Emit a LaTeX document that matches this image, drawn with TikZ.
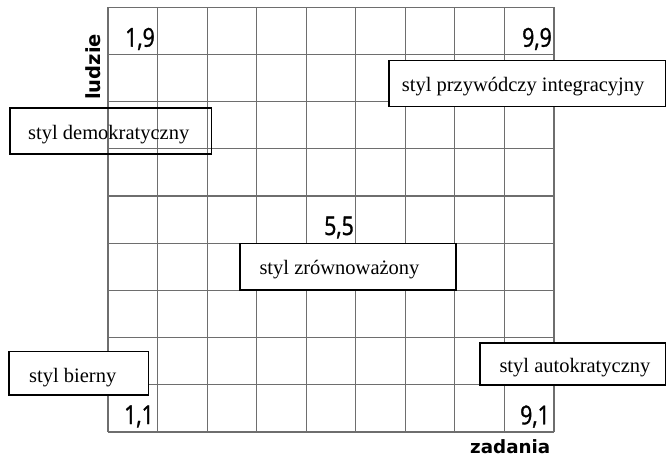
\documentclass[tikz,border=0pt]{standalone}
\usepackage{fontspec}
\setmainfont{Liberation Serif}
\newfontfamily\numfont[FakeStretch=0.82,FakeBold=1.2]{Open Sans}
\newfontfamily\axfont{DejaVu Sans}
\definecolor{gridc}{HTML}{6e6e6e}
\tikzset{
  gridline/.style={draw=gridc, line width=1.2pt},
  stylebox/.style={draw=black, line width=1.5pt, fill=white, inner sep=0pt, anchor=north west},
  openbox/.style={draw=black, line width=1.5pt, inner sep=0pt, anchor=north west},
  boxtext/.style={inner sep=0pt, anchor=base west, font=\fontsize{20.5}{24}\selectfont},
  numtext/.style={inner sep=0pt, anchor=base east, font=\numfont\fontsize{26}{30}\selectfont},
}
\begin{document}
\begin{tikzpicture}[x=1pt, y=-1pt]
\useasboundingbox (0,0) rectangle (666,457);
% grid
\foreach \i in {0,...,9} {
  \draw[gridline] ({108+\i*49.55},7.3) -- ({108+\i*49.55},432);
  \draw[gridline] (108,{7.3+\i*47.19}) -- (554,{7.3+\i*47.19});
}
% corner numbers
\node[numtext] (n19) at (155,46.7) {1,9};
\node[numtext] (n99) at (552,46.7) {9,9};
\node[numtext] (n55) at (354,235) {5,5};
\node[numtext] (n11) at (154,424) {1,1};
\node[numtext] (n91) at (550,424.3) {9,1};
% axis labels
\node[inner sep=0pt, anchor=base west, rotate=90, font=\axfont\bfseries\fontsize{19.5}{22}\selectfont] (ludzie) at (100.5,100) {ludzie};
\node[inner sep=0pt, anchor=base west, font=\axfont\bfseries\fontsize{18.3}{21}\selectfont] (zadania) at (470,453.3) {zadania};
% boxes
\node[openbox, minimum width=201.7pt, minimum height=46pt] (bdem) at (9,107.3) {};
\node[boxtext] (tdem) at (28,139.3) {styl demokratyczny};
\node[stylebox, minimum width=276.7pt, minimum height=46pt] (bint) at (388.3,60) {};
\node[boxtext] (tint) at (401.7,91.7) {styl przywódczy integracyjny};
\node[stylebox, minimum width=216pt, minimum height=46.6pt] (bzr) at (239.3,242.7) {};
\node[boxtext] (tzr) at (259.3,274) {styl zrównoważony};
\node[stylebox, minimum width=139.4pt, minimum height=43.3pt] (bbi) at (8.3,350.7) {};
\node[boxtext] (tbi) at (29,382.3) {styl bierny};
\node[stylebox, minimum width=186pt, minimum height=41.7pt] (bau) at (479,342.3) {};
\node[boxtext] (tau) at (499.3,372.7) {styl autokratyczny};
\end{tikzpicture}
\end{document}
